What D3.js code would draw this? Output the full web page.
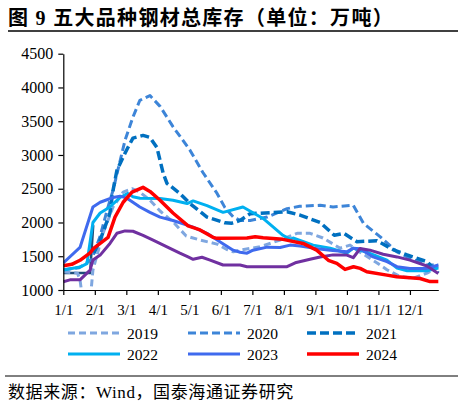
<!DOCTYPE html>
<html><head><meta charset="utf-8">
<script src="https://cdn.jsdelivr.net/npm/d3@7/dist/d3.min.js"></script>
<style>body{margin:0;background:#fff}svg{display:block}</style>
</head><body>
<svg id="c" width="466" height="406"></svg>
<script>
// x positions are in months since 1/1 (0 = 1/1, 1 = 2/1, ...)
const months = ["1/1","2/1","3/1","4/1","5/1","6/1","7/1","8/1","9/1","10/1","11/1","12/1"];
const yTicks = [1000,1500,2000,2500,3000,3500,4000,4500];

const s2019 = [[0,1270],[0.45,1250],[0.53,1150],[0.58,980],[0.75,700],[0.88,980],[0.94,1295],[1.26,1840],[1.58,2230],[1.9,2450],[2.18,2500],[2.43,2450],[2.75,2330],[3.07,2170],[3.48,2010],[3.9,1800],[4.34,1740],[4.88,1680],[5.19,1600],[5.4,1565],[5.61,1590],[6.24,1640],[6.88,1740],[7.42,1840],[7.83,1840],[8.24,1770],[8.78,1620],[9.1,1665],[9.32,1590],[9.96,1400],[10.27,1300],[10.69,1200],[11.1,1175],[11.54,1250],[11.9,1345]];
const s2020 = [[0,1300],[0.5,1330],[0.9,1450],[1.17,1800],[1.4,2200],[1.58,2480],[1.96,3220],[2.21,3560],[2.43,3810],[2.75,3880],[3.07,3720],[3.48,3420],[4.02,3070],[4.43,2740],[4.88,2430],[5.13,2220],[5.4,2080],[5.61,2030],[5.93,2030],[6.47,2080],[7.1,2205],[7.5,2240],[8.15,2255],[8.56,2230],[9.2,2255],[9.53,1985],[10.05,1790],[10.59,1565],[10.91,1490],[11.54,1370],[11.9,1370]];
const s2021 = [[0.97,1550],[1.17,1740],[1.48,2140],[1.58,2480],[1.7,2770],[1.9,2970],[2.05,3110],[2.21,3250],[2.53,3290],[2.75,3260],[2.97,3110],[3.17,2730],[3.29,2580],[3.7,2430],[4.02,2280],[4.56,2080],[5.13,1995],[5.35,1990],[5.61,2030],[5.93,2130],[7.1,2160],[7.51,2110],[8.15,2000],[8.6,1810],[8.9,1840],[9.32,1715],[9.95,1730],[10.5,1590],[10.91,1520],[11.54,1420],[11.9,1250]];
const sJan = [[0,1250],[0.85,1250],[0.95,1960]];
const s2022 = [[0,1295],[0.53,1340],[0.75,1390],[0.94,2000],[1.17,2140],[1.48,2230],[1.8,2370],[2.05,2430],[2.21,2380],[2.43,2360],[3.07,2355],[3.48,2330],[3.93,2280],[4.12,2320],[4.56,2250],[5.07,2150],[5.7,2230],[6.34,2060],[6.97,1810],[7.2,1750],[7.29,1770],[7.93,1665],[8.47,1620],[9.0,1545],[9.2,1620],[9.63,1560],[10.27,1443],[10.59,1325],[10.91,1285],[11.54,1285],[11.9,1325]];
const s2023 = [[0,1400],[0.53,1630],[0.94,2230],[1.17,2300],[1.58,2370],[1.8,2390],[2.02,2360],[2.43,2230],[2.75,2150],[3.07,2080],[3.48,2030],[3.93,1960],[4.12,1930],[4.56,1840],[4.98,1710],[5.39,1590],[5.61,1560],[5.83,1545],[6.02,1590],[6.47,1635],[6.88,1630],[7.2,1665],[7.51,1650],[7.93,1620],[8.47,1590],[9.0,1565],[9.2,1620],[9.42,1610],[9.83,1490],[10.27,1420],[10.59,1345],[11.0,1320],[11.54,1320],[11.9,1370]];
const s2024 = [[0,1360],[0.27,1380],[0.53,1440],[0.85,1550],[0.97,1620],[1.17,1690],[1.42,1780],[1.64,2080],[1.9,2300],[2.18,2450],[2.53,2520],[2.75,2460],[3.07,2330],[3.48,2140],[3.96,1950],[4.34,1890],[4.75,1780],[4.88,1765],[5.83,1770],[6.09,1790],[6.34,1775],[6.97,1750],[7.61,1690],[8.04,1590],[8.41,1440],[8.68,1395],[8.94,1305],[9.21,1345],[9.42,1320],[9.63,1270],[10.27,1220],[10.58,1195],[11.32,1170],[11.64,1125],[11.9,1125]];
const sPurple = [[0,1123],[0.21,1150],[0.53,1150],[0.85,1295],[0.94,1443],[1.17,1517],[1.48,1690],[1.7,1840],[1.96,1875],[2.21,1870],[2.53,1810],[2.85,1740],[3.29,1640],[3.7,1545],[3.96,1490],[4.12,1455],[4.4,1485],[4.66,1443],[5.07,1370],[5.61,1370],[5.83,1345],[7.1,1345],[7.36,1403],[7.83,1455],[8.15,1490],[8.56,1520],[9.0,1517],[9.2,1478],[9.42,1615],[9.73,1590],[10.15,1530],[10.59,1490],[11.0,1443],[11.54,1355],[11.9,1245]];

const seriesNames = ["2019","2020","2021","2022","2023","2024"];

const svg = d3.select("#c");
const serif = "'Liberation Serif','Times New Roman',serif";
const cjk = "'Liberation Serif','Noto Sans CJK SC',sans-serif";

const x = d3.scaleLinear().domain([0, 11.9]).range([63.3, 438.3]);
const y = d3.scaleLinear().domain([1000, 4500]).range([290, 53.7]);

// title
svg.append("text").attr("x", 8).attr("y", 25)
  .style("font-family", cjk).style("font-size", "20px").style("font-weight", "bold")
  .style("letter-spacing", "1.3px")
  .text("图 9 五大品种钢材总库存（单位：万吨）");
svg.append("line").attr("x1", 8).attr("x2", 458).attr("y1", 31).attr("y2", 31)
  .attr("stroke", "#000").attr("stroke-width", 1.5);

// clip
svg.append("clipPath").attr("id", "clip").append("rect")
  .attr("x", 63.3).attr("y", 40).attr("width", 380).attr("height", 250);

const line = d3.line().x(d => x(d[0])).y(d => y(d[1])).curve(d3.curveLinear);
const g = svg.append("g").attr("clip-path", "url(#clip)");

const styles = [
  {data: sJan, color: "#1F4E79", w: 2.5, dash: null},
  {data: s2019, color: "#7FA7E0", w: 3, dash: "7,4"},
  {data: s2020, color: "#3D85D8", w: 3, dash: "8,4"},
  {data: s2021, color: "#0070C0", w: 3.5, dash: "9,4"},
  {data: s2022, color: "#00B0F0", w: 3, dash: null},
  {data: s2023, color: "#3F6AEE", w: 3, dash: null},
  {data: sPurple, color: "#7030A0", w: 3, dash: null},
  {data: s2024, color: "#FF0000", w: 3.5, dash: null}
];
styles.forEach(s => {
  g.append("path").attr("d", line(s.data)).attr("fill", "none")
    .attr("stroke", s.color).attr("stroke-width", s.w)
    .attr("stroke-dasharray", s.dash).attr("stroke-linejoin", "round");
});

// axes
const yAxis = d3.axisLeft(y).tickValues(yTicks).tickFormat(d3.format("d")).tickSize(5).tickSizeOuter(0).tickPadding(5);
const ya = svg.append("g").attr("transform", "translate(63.3,0)").call(yAxis);
const xAxis = d3.axisBottom(x).tickValues(d3.range(12)).tickFormat(i => months[i]).tickSize(5).tickSizeOuter(0).tickPadding(9);
const xa = svg.append("g").attr("transform", "translate(0,290)").call(xAxis);
[ya, xa].forEach(a => {
  a.selectAll("path,line").attr("stroke", "#000").attr("stroke-width", 1.2);
  a.selectAll("text").style("font-family", serif).attr("fill", "#000");
});
ya.selectAll("text").style("font-size", "16px");
xa.selectAll("text").style("font-size", "15px");

// legend
const legX = [68, 188, 307], legY = [333, 354];
seriesNames.forEach((n, i) => {
  const s = [styles[1], styles[2], styles[3], styles[4], styles[5], styles[7]][i];
  const lx = legX[i % 3], ly = legY[Math.floor(i / 3)];
  svg.append("line").attr("x1", lx).attr("x2", lx + 52).attr("y1", ly).attr("y2", ly)
    .attr("stroke", s.color).attr("stroke-width", s.w).attr("stroke-dasharray", s.dash);
  svg.append("text").attr("x", lx + 59).attr("y", ly + 5.5)
    .style("font-family", serif).style("font-size", "15.5px").text(n);
});

// footer
svg.append("line").attr("x1", 5).attr("x2", 458).attr("y1", 376).attr("y2", 376)
  .attr("stroke", "#000").attr("stroke-width", 1);
svg.append("text").attr("x", 8).attr("y", 398)
  .style("font-family", cjk).style("font-size", "17px").style("letter-spacing", "0.6px")
  .text("数据来源：Wind，国泰海通证券研究");
</script>
</body></html>
